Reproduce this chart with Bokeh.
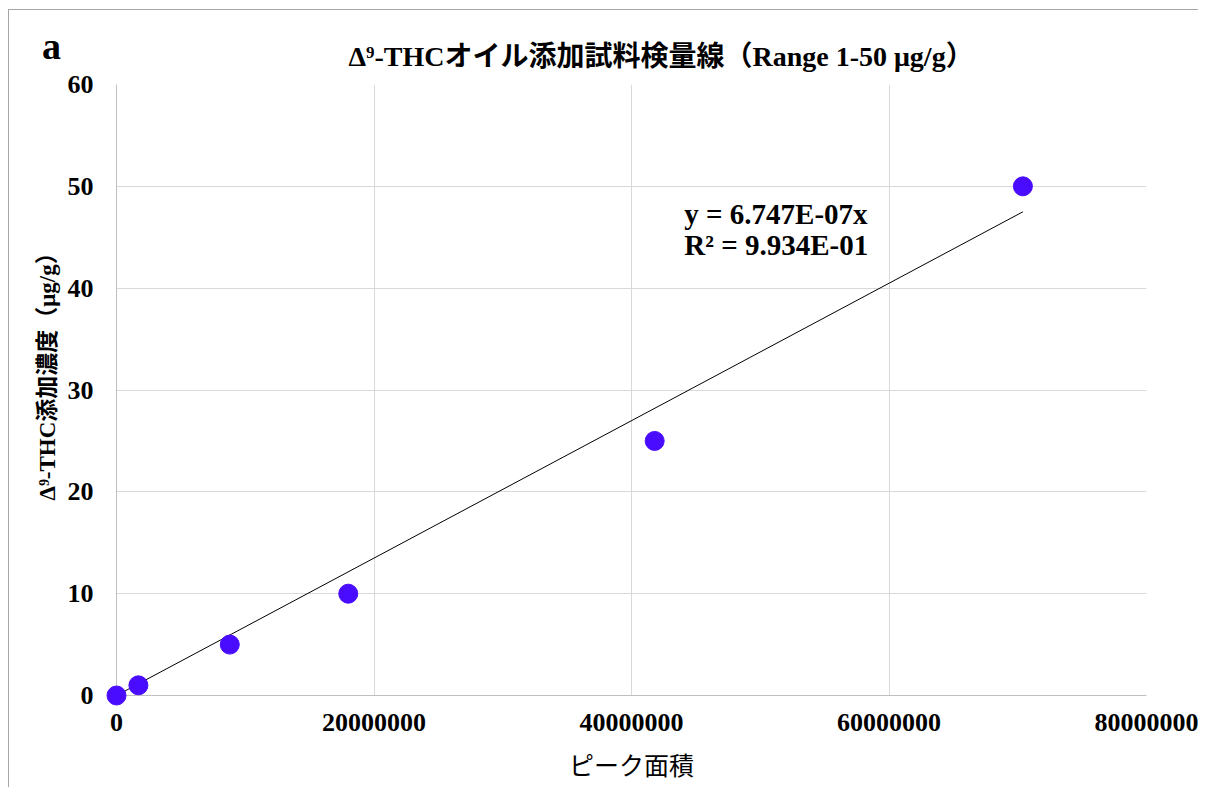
from bokeh.plotting import figure
from bokeh.layouts import column
from bokeh.models import Label, Div, Title, NumeralTickFormatter, FixedTicker, Range1d
from bokeh.embed import file_html
from bokeh.resources import INLINE

# ---- data ----
peak_area = [0, 1.7e6, 8.8e6, 18.0e6, 41.8e6, 70.4e6]
conc = [0, 1, 5, 10, 25, 50]
slope = 6.747e-07
r_squared = 9.934e-01
x_ticks = [0, 20000000, 40000000, 60000000, 80000000]
y_ticks = [0, 10, 20, 30, 40, 50, 60]

title_text = "Δ⁹-THCオイル添加試料検量線（Range 1-50 μg/g）"
x_label = "ピーク面積"
y_label = "Δ⁹-THC添加濃度（μg/g）"
panel_tag = "a"

SERIF = "'Liberation Serif', 'Noto Sans CJK JP'"
JP = "'Noto Sans CJK JP'"

p = figure(
    frame_width=1029, frame_height=610,
    min_border_left=107, min_border_right=53,
    min_border_top=74, min_border_bottom=93,
    x_range=Range1d(0, 80000000), y_range=Range1d(0, 60),
    output_backend="svg", toolbar_location=None,
    background_fill_color="white", border_fill_color="white",
)
p.outline_line_color = None
p.styles = {"border-top": "1px solid #a6a6a6", "border-left": "1px solid #a6a6a6",
            "margin-left": "8px", "margin-top": "9px"}

# title
p.title.text = title_text
p.title.align = "left"
p.title.offset = 232
p.title.text_font = SERIF
p.title.text_font_style = "bold"
p.title.text_font_size = "28px"
p.title.text_color = "black"
p.title.standoff = 26

# grid
for g in (p.xgrid, p.ygrid):
    g.grid_line_color = "#d9d9d9"
    g.grid_line_width = 1
p.xgrid.ticker = FixedTicker(ticks=x_ticks)
p.ygrid.ticker = FixedTicker(ticks=y_ticks)

# axes
p.xaxis.ticker = FixedTicker(ticks=x_ticks)
p.yaxis.ticker = FixedTicker(ticks=y_ticks)
p.xaxis.formatter = NumeralTickFormatter(format="0")
for ax in (p.xaxis, p.yaxis):
    ax.axis_line_color = "#bfbfbf"
    ax.major_tick_line_color = None
    ax.minor_tick_line_color = None
    ax.major_label_text_font = "Liberation Serif"
    ax.major_label_text_font_style = "bold"
    ax.major_label_text_font_size = "26px"
    ax.major_label_text_color = "black"
p.yaxis.major_label_standoff = 17
p.xaxis.major_label_standoff = 12

p.xaxis.axis_label = x_label
p.xaxis.axis_label_text_font = JP
p.xaxis.axis_label_text_font_style = "normal"
p.xaxis.axis_label_text_font_size = "25px"
p.xaxis.axis_label_standoff = 12
p.xaxis.axis_label_text_color = "black"

# vertical y-axis title (side title so it can be positioned)
p.add_layout(Title(text=y_label, align="left", offset=195, standoff=10,
                   text_font=SERIF, text_font_style="bold",
                   text_font_size="23px", text_color="black"), "left")

# trendline (through origin)
x_line = [0, max(peak_area)]
y_line = [slope * v for v in x_line]
p.line(x_line, y_line, line_color="black", line_width=1)

# points
p.scatter(peak_area, conc, size=19, fill_color="#4a0cff", line_color="#4a0cff",
          level="overlay")

# trendline equation
p.add_layout(Label(x=44.1e6, y=47.3, text="y = %.3Ex" % slope, text_align="left",
                   text_baseline="middle", text_font="Liberation Serif",
                   text_font_style="bold", text_font_size="29px", text_color="black"))
p.add_layout(Label(x=44.1e6, y=44.2, text="R² = %.3E" % r_squared, text_align="left",
                   text_baseline="middle", text_font="Liberation Serif",
                   text_font_style="bold", text_font_size="29px", text_color="black"))

# panel tag "a" (overlaid in the chart's top-left corner)
tag = Div(text=panel_tag, width=30, height=46,
          styles={"position": "absolute", "left": "37px", "top": "19px",
                  "font-family": "'Liberation Serif'", "font-weight": "bold",
                  "font-size": "38px", "line-height": "normal", "color": "black"})

layout = column(p, tag)
open("out.html", "w").write(file_html(layout, INLINE))
